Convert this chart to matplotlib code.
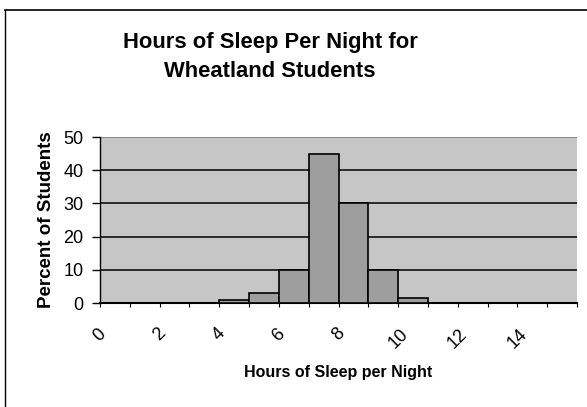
import matplotlib
matplotlib.use("Agg")
import matplotlib.pyplot as plt
from matplotlib.lines import Line2D

hours = [4, 5, 6, 7, 8, 9, 10]
percents = [1, 3, 10, 45, 30, 10, 1.5]
x_tick_values = list(range(0, 17))
x_tick_labels = [str(v) if v % 2 == 0 and v <= 14 else "" for v in x_tick_values]
y_tick_values = [0, 10, 20, 30, 40, 50]

plt.rcParams['font.family'] = ['Liberation Sans', 'DejaVu Sans']

fig = plt.figure(figsize=(5.87, 4.07), dpi=100)
fig.patch.set_facecolor('white')
ax = fig.add_axes([100/587, 1-303/407, 477/587, 166/407])
ax.set_facecolor('#c6c6c6')

ax.bar(hours, percents, width=1, align='edge', color='#9e9e9e',
       edgecolor='black', linewidth=1.2, zorder=3)

ax.set_xlim(0, 16)
ax.set_ylim(0, 50)
ax.set_yticks(y_tick_values)
ax.set_yticklabels([str(v) for v in y_tick_values], fontsize=13)
ax.set_xticks(x_tick_values)
ax.set_xticklabels(x_tick_labels, rotation=45, fontsize=13, ha='center', va='top')
ax.tick_params(axis='x', length=3, width=0.8, pad=13)
ax.tick_params(axis='y', length=6, width=1, pad=6)
ax.yaxis.grid(True, color='black', linewidth=1.1, zorder=1)
ax.get_ygridlines()[-1].set_color('#777777')
ax.set_axisbelow(True)
for s in ['top', 'right']:
    ax.spines[s].set_visible(False)
ax.spines['left'].set_linewidth(1.0)
ax.spines['bottom'].set_linewidth(1.5)

ax.set_xlabel("Hours of Sleep per Night", fontsize=11.5, fontweight='bold')
ax.xaxis.set_label_coords(0.5, -(372 - 303) / 166, transform=ax.transAxes)
ax.xaxis.label.set_va('center')
ax.set_ylabel("Percent of Students", fontsize=13.5, fontweight='bold')
ax.yaxis.set_label_coords((47 - 100) / 477, 0.5)
ax.yaxis.label.set_va('center')

fig.text(270/587, 1-57/407, "Hours of Sleep Per Night for\nWheatland Students",
         ha='center', va='center', fontsize=15.8, fontweight='bold', linespacing=1.45)

fig.add_artist(Line2D([5/587, 1], [1-10/407, 1-10/407], color='black', linewidth=1.2,
                      transform=fig.transFigure))
fig.add_artist(Line2D([5/587, 5/587], [0, 1-10/407], color='black', linewidth=1.0,
                      transform=fig.transFigure))

fig.savefig("out.png", dpi=100)
